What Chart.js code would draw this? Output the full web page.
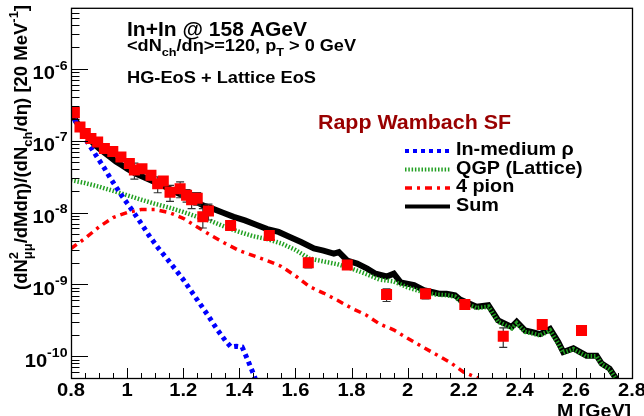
<!DOCTYPE html>
<html>
<head>
<meta charset="utf-8">
<script src="https://cdn.jsdelivr.net/npm/chart.js@4.4.1/dist/chart.umd.min.js"></script>
<style>
  body { margin: 0; background: #fff; }
  #wrap { width: 644px; height: 416px; }
</style>
</head>
<body>
<div id="wrap"><canvas id="c" width="644" height="416"></canvas></div>
<script>
// ---- data ----
const dataMass = [0.812, 0.832, 0.851, 0.871, 0.895, 0.919, 0.949, 0.978, 1.008, 1.026, 1.053, 1.085, 1.109, 1.129, 1.153, 1.189, 1.212, 1.23, 1.25, 1.27, 1.29, 1.369, 1.507, 1.646, 1.785, 1.925, 2.064, 2.204, 2.341, 2.48, 2.62];
const dataYield = [2.45e-7, 1.55e-7, 1.26e-7, 1.07e-7, 9.55e-8, 7.76e-8, 7.08e-8, 5.93e-8, 4.79e-8, 3.89e-8, 4.07e-8, 3.31e-8, 2.51e-8, 2.75e-8, 1.91e-8, 2.14e-8, 1.74e-8, 1.51e-8, 1.58e-8, 8.71e-9, 1.05e-8, 6.61e-9, 4.79e-9, 2.00e-9, 1.87e-9, 7.24e-10, 7.41e-10, 5.25e-10, 1.91e-10, 2.78e-10, 2.29e-10];
// relative errors
const dataErr = [0.04, 0.05, 0.05, 0.06, 0.06, 0.08, 0.08, 0.1, 0.12, 0.25, 0.12, 0.15, 0.25, 0.15, 0.25, 0.25, 0.2, 0.25, 0.2, 0.3, 0.25, 0.12, 0.1, 0.15, 0.1, 0.2, 0.15, 0.12, 0.3, 0.1, 0.12];

const rhoMass = [0.80, 0.82, 0.84, 0.86, 0.88, 0.90, 0.92, 0.94, 0.96, 0.98, 1.00, 1.02, 1.05, 1.08, 1.11, 1.14, 1.17, 1.20, 1.23, 1.26, 1.29, 1.32, 1.35, 1.37, 1.39, 1.41, 1.43, 1.45, 1.47];
const rhoYield = [2.51e-7, 1.74e-7, 1.26e-7, 9.33e-8, 7.08e-8, 5.37e-8, 4.07e-8, 3.02e-8, 2.29e-8, 1.74e-8, 1.35e-8, 1.05e-8, 7.08e-9, 4.68e-9, 3.24e-9, 2.34e-9, 1.66e-9, 1.17e-9, 7.94e-10, 5.37e-10, 3.63e-10, 2.40e-10, 1.66e-10, 1.35e-10, 1.38e-10, 1.35e-10, 8.91e-11, 5.75e-11, 3.55e-11];

const qgpMass = [0.80, 0.85, 0.90, 0.95, 1.00, 1.05, 1.10, 1.15, 1.20, 1.25, 1.30, 1.35, 1.40, 1.45, 1.50, 1.55, 1.60, 1.65, 1.70, 1.75, 1.80, 1.85, 1.90, 1.95, 2.00, 2.05, 2.10, 2.139, 2.169, 2.187, 2.246, 2.288, 2.323, 2.371, 2.389, 2.419, 2.442, 2.472, 2.508, 2.537, 2.555, 2.591, 2.638, 2.674, 2.692, 2.72, 2.74, 2.76];
const qgpYield = [2.82e-8, 2.57e-8, 2.29e-8, 2.00e-8, 1.74e-8, 1.51e-8, 1.32e-8, 1.17e-8, 1.02e-8, 8.71e-9, 7.59e-9, 6.31e-9, 5.37e-9, 4.68e-9, 4.27e-9, 3.72e-9, 3.02e-9, 2.29e-9, 2.09e-9, 1.91e-9, 1.66e-9, 1.41e-9, 1.17e-9, 1.10e-9, 9.12e-10, 7.94e-10, 7.24e-10, 7.08e-10, 6.76e-10, 5.89e-10, 4.68e-10, 4.90e-10, 3.02e-10, 2.45e-10, 2.88e-10, 2.19e-10, 2.09e-10, 1.95e-10, 2.29e-10, 1.51e-10, 1.12e-10, 1.26e-10, 1.00e-10, 1.00e-10, 7.76e-11, 6.61e-11, 5.01e-11, 3.55e-11];

const pionMass = [0.80, 0.85, 0.90, 0.95, 1.00, 1.05, 1.10, 1.15, 1.20, 1.25, 1.30, 1.35, 1.40, 1.45, 1.50, 1.55, 1.60, 1.65, 1.70, 1.75, 1.80, 1.85, 1.90, 1.95, 2.00, 2.05, 2.10, 2.15, 2.20, 2.25];
const pionYield = [3.16e-9, 4.37e-9, 6.31e-9, 8.51e-9, 1.00e-8, 1.10e-8, 1.10e-8, 1.00e-8, 8.32e-9, 6.31e-9, 4.79e-9, 3.72e-9, 2.95e-9, 2.51e-9, 2.14e-9, 1.78e-9, 1.32e-9, 9.33e-10, 7.59e-10, 6.03e-10, 4.68e-10, 3.80e-10, 2.82e-10, 2.34e-10, 1.78e-10, 1.38e-10, 1.07e-10, 8.32e-11, 6.03e-11, 5.01e-11];

const sumMass = [0.80, 0.82, 0.84, 0.86, 0.88, 0.90, 0.92, 0.94, 0.96, 0.98, 1.00, 1.03, 1.06, 1.09, 1.12, 1.15, 1.18, 1.21, 1.24, 1.27, 1.30, 1.34, 1.38, 1.42, 1.46, 1.50, 1.54, 1.58, 1.62, 1.666, 1.70, 1.737, 1.755, 1.785, 1.82, 1.856, 1.886, 1.925, 1.951, 1.975, 2.023, 2.058, 2.094, 2.115, 2.139, 2.169, 2.187, 2.246, 2.288, 2.323, 2.371, 2.389, 2.419, 2.442, 2.472, 2.508, 2.537, 2.555, 2.591, 2.638, 2.674, 2.692, 2.72, 2.74, 2.76];
const sumYield = [2.51e-7, 1.82e-7, 1.38e-7, 1.12e-7, 9.12e-8, 7.76e-8, 6.76e-8, 5.89e-8, 5.13e-8, 4.57e-8, 4.07e-8, 3.47e-8, 3.09e-8, 2.75e-8, 2.45e-8, 2.14e-8, 1.86e-8, 1.66e-8, 1.45e-8, 1.26e-8, 1.15e-8, 1.00e-8, 8.71e-9, 7.76e-9, 6.76e-9, 5.89e-9, 5.37e-9, 4.57e-9, 3.89e-9, 3.16e-9, 2.95e-9, 2.69e-9, 2.82e-9, 2.14e-9, 1.95e-9, 1.66e-9, 1.41e-9, 1.29e-9, 1.41e-9, 1.07e-9, 9.77e-10, 8.32e-10, 7.76e-10, 7.41e-10, 7.41e-10, 7.08e-10, 6.17e-10, 4.90e-10, 5.13e-10, 3.16e-10, 2.57e-10, 3.02e-10, 2.29e-10, 2.19e-10, 2.04e-10, 2.40e-10, 1.58e-10, 1.15e-10, 1.29e-10, 1.02e-10, 1.02e-10, 7.94e-11, 6.76e-11, 5.13e-11, 3.55e-11];

const xTicks = [0.8, 1.0, 1.2, 1.4, 1.6, 1.8, 2.0, 2.2, 2.4, 2.6, 2.8];
const xTickLabels = ['0.8', '1', '1.2', '1.4', '1.6', '1.8', '2', '2.2', '2.4', '2.6', '2.8'];
const yTicks = [1e-10, 1e-9, 1e-8, 1e-7, 1e-6];
const yTickExps = ['-10', '-9', '-8', '-7', '-6'];

const legendLabels = ['In-medium \u03c1', 'QGP (Lattice)', '4 pion', 'Sum'];

// ---- helpers ----
const FONT = '"Liberation Sans", Arial, Helvetica, sans-serif';
function pts(xs, ys) { return xs.map((x, i) => ({ x: x, y: ys[i] })); }

function fnt(size) { return 'bold ' + size + 'px ' + FONT; }

function richWidth(ctx, parts, size) {
  const small = size * 0.7;
  let w = 0;
  parts.forEach(p => {
    if (p.t !== undefined) { ctx.font = fnt(size); w += ctx.measureText(p.t).width; }
    else {
      ctx.font = fnt(small);
      w += Math.max(p.sup ? ctx.measureText(p.sup).width : 0, p.sub ? ctx.measureText(p.sub).width : 0);
    }
  });
  return w;
}

function drawRich(ctx, parts, x, y, size, align, target, sx0) {
  const small = size * 0.7;
  const total = richWidth(ctx, parts, size);
  const sx = target ? target / total : (sx0 || 1);
  let start = x;
  if (align === 'right') start = x - total * sx;
  if (align === 'center') start = x - total * sx / 2;
  ctx.save();
  ctx.translate(start, y);
  ctx.scale(sx, 1);
  ctx.textAlign = 'left';
  ctx.textBaseline = 'alphabetic';
  let cx = 0;
  parts.forEach(p => {
    if (p.t !== undefined) {
      ctx.font = fnt(size);
      ctx.fillText(p.t, cx, 0);
      cx += ctx.measureText(p.t).width;
    } else {
      ctx.font = fnt(small);
      let w = 0;
      if (p.sup) { ctx.fillText(p.sup, cx, -size * 0.52); w = Math.max(w, ctx.measureText(p.sup).width); }
      if (p.sub) { ctx.fillText(p.sub, cx, size * 0.28); w = Math.max(w, ctx.measureText(p.sub).width); }
      cx += w;
    }
  });
  ctx.restore();
}

const rootStyle = {
  id: 'rootStyle',
  beforeDraw(chart) {
    const ctx = chart.ctx;
    ctx.save();
    ctx.fillStyle = '#fff';
    ctx.fillRect(0, 0, chart.width, chart.height);
    ctx.restore();
  },
  beforeDatasetDraw(chart, args) {
    if (args.index !== 0) return;
    const ctx = chart.ctx, xs = chart.scales.x, ys = chart.scales.y;
    const a = chart.chartArea;
    ctx.save();
    ctx.beginPath();
    ctx.rect(a.left, a.top, a.right - a.left, a.bottom - a.top);
    ctx.clip();
    ctx.strokeStyle = '#333';
    ctx.lineWidth = 1.2;
    dataMass.forEach((m, i) => {
      const px = xs.getPixelForValue(m);
      const lo = ys.getPixelForValue(dataYield[i] * (1 - dataErr[i]));
      const hi = ys.getPixelForValue(dataYield[i] * (1 + dataErr[i]));
      ctx.beginPath();
      ctx.moveTo(px, lo); ctx.lineTo(px, hi);
      ctx.moveTo(px - 4, lo); ctx.lineTo(px + 4, lo);
      ctx.moveTo(px - 4, hi); ctx.lineTo(px + 4, hi);
      ctx.stroke();
    });
    ctx.restore();
  },
  afterDraw(chart) {
    const ctx = chart.ctx, xs = chart.scales.x, ys = chart.scales.y;
    const a = chart.chartArea;
    ctx.save();
    // frame
    ctx.strokeStyle = '#000';
    ctx.lineWidth = 1.3;
    ctx.strokeRect(a.left + 0.5, a.top + 0.5, a.right - a.left, a.bottom - a.top);

    // x ticks (inside)
    ctx.lineWidth = 1;
    ctx.beginPath();
    for (let k = 0; k <= 40; k++) {
      const v = 0.8 + k * 0.05;
      const px = Math.round(xs.getPixelForValue(v)) + 0.5;
      const len = (k % 4 === 0) ? 10 : 5;
      ctx.moveTo(px, a.bottom); ctx.lineTo(px, a.bottom - len);
    }
    ctx.stroke();

    // y ticks (inside)
    ctx.beginPath();
    for (let d = -11; d <= -6; d++) {
      for (let k = 1; k <= 9; k++) {
        const v = k * Math.pow(10, d);
        if (v < ys.min || v > ys.max) continue;
        const py = Math.round(ys.getPixelForValue(v)) + 0.5;
        const len = k === 1 ? 17 : 8.5;
        ctx.moveTo(a.left, py); ctx.lineTo(a.left + len, py);
      }
    }
    ctx.stroke();

    ctx.fillStyle = '#000';
    // x tick labels
    xTicks.forEach((v, i) => {
      drawRich(ctx, [{ t: xTickLabels[i] }], xs.getPixelForValue(v), 396, 18.5, 'center', 0, 1.09);
    });
    // y tick labels
    yTicks.forEach((v, i) => {
      const py = ys.getPixelForValue(v);
      drawRich(ctx, [{ t: '10' }, { sup: yTickExps[i] }], 67.5, py + 10.5, 18.5, 'right', 0, 1.09);
    });

    // axis titles
    drawRich(ctx, [{ t: 'M [GeV]' }], 631, 417, 19, 'right', 74);
    ctx.save();
    ctx.translate(27, 5);
    ctx.rotate(-Math.PI / 2);
    drawRich(ctx, [{ t: '(dN' }, { sup: '2', sub: '\u03bc\u03bc' }, { t: '/dMd\u03b7)/(dN' }, { sub: 'ch' },
      { t: '/d\u03b7) [20 MeV' }, { sup: '-1' }, { t: ']' }], 0, 0, 18, 'right', 285);
    ctx.restore();

    // header texts
    drawRich(ctx, [{ t: 'In+In @ 158 AGeV' }], 127, 35.5, 20, 'left', 180);
    drawRich(ctx, [{ t: '<dN' }, { sub: 'ch' }, { t: '/d\u03b7>=120, p' }, { sub: 'T' }, { t: ' > 0 GeV' }], 127, 51, 16.5, 'left', 229);
    drawRich(ctx, [{ t: 'HG-EoS + Lattice EoS' }], 127, 83, 16, 'left', 189);
    ctx.fillStyle = '#990000';
    drawRich(ctx, [{ t: 'Rapp Wambach SF' }], 318, 129, 20, 'left', 193);

    // legend
    const styles = chart.data.datasets;
    const legendSets = [1, 3, 2, 4];
    const baseY = [155, 173.5, 192, 210.5];
    legendSets.forEach((di, i) => {
      const ds = styles[di];
      const ly = baseY[i] - 4;
      ctx.save();
      ctx.strokeStyle = ds.borderColor;
      ctx.lineWidth = Math.min(ds.borderWidth, 4);
      ctx.setLineDash(ds.borderDash || []);
      ctx.beginPath();
      ctx.moveTo(405, ly); ctx.lineTo(450, ly);
      ctx.stroke();
      ctx.restore();
      ctx.fillStyle = '#000';
      drawRich(ctx, [{ t: legendLabels[i] }], 456, baseY[i], 18.5, 'left', 0, 1.07);
    });
    ctx.restore();
  }
};

new Chart(document.getElementById('c'), {
  type: 'scatter',
  data: {
    datasets: [
      { label: 'data', data: pts(dataMass, dataYield), showLine: false, pointStyle: 'rect', pointRadius: 7.8,
        backgroundColor: '#ff0000', borderWidth: 0 },
      { label: 'In-medium rho', data: pts(rhoMass, rhoYield), showLine: true, pointRadius: 0, borderColor: '#0000ff',
        borderWidth: 5, borderDash: [4, 4] },
      { label: '4 pion', data: pts(pionMass, pionYield), showLine: true, pointRadius: 0, borderColor: '#ff0000',
        borderWidth: 3.5, borderDash: [7, 5, 3, 5] },
      { label: 'QGP (Lattice)', data: pts(qgpMass, qgpYield), showLine: true, pointRadius: 0, borderColor: '#22a022',
        borderWidth: 4.5, borderDash: [1.5, 1.8] },
      { label: 'Sum', data: pts(sumMass, sumYield), showLine: true, pointRadius: 0, borderColor: '#000000',
        borderWidth: 6 }
    ]
  },
  options: {
    responsive: false,
    devicePixelRatio: 1,
    animation: false,
    layout: { padding: { left: 71, top: 7, right: 12, bottom: 38 } },
    plugins: { legend: { display: false }, tooltip: { enabled: false } },
    scales: {
      x: { type: 'linear', min: 0.8, max: 2.8, display: false },
      y: { type: 'logarithmic', min: 5.0e-11, max: 7.03e-6, display: false }
    }
  },
  plugins: [rootStyle]
});
</script>
</body>
</html>
